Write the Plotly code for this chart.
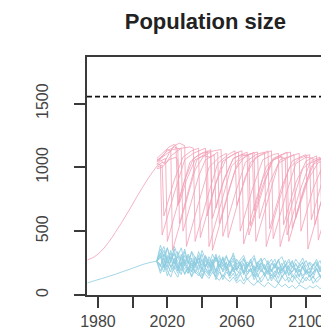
import plotly.graph_objects as go

# ---------------- data ----------------
HIST_PINK_YEARS = [1974, 1978, 1982, 1986, 1990, 1994, 1998, 2002, 2006, 2010, 2014]
HIST_PINK_VALUES = [275, 300, 345, 410, 490, 575, 665, 760, 850, 935, 1010]

HIST_BLUE_YEARS = [1974, 1978, 1982, 1986, 1990, 1994, 1998, 2002, 2006, 2010, 2014]
HIST_BLUE_VALUES = [95, 112, 128, 145, 162, 182, 200, 220, 240, 255, 265]

CARRYING_CAPACITY = 1555

PINK_RUNS = [
    [(2014,1010),(2017,1040),(2019,1030),(2022,1090),(2025,1120),(2028,1150),(2029,500),(2033,700),(2038,930),(2042,1060),(2046,1090),(2049,1120),(2050,560),(2056,850),(2061,1050),(2066,1090),(2070,1120),(2071,420),(2078,760),(2084,1030),(2090,1080),(2093,1100),(2094,600),(2101,900),(2107,1040),(2114,1060)],
    [(2014,1040),(2016,1060),(2018,1030),(2021,1110),(2024,1170),(2027,1190),(2030,1170),(2031,380),(2038,720),(2044,1000),(2050,1080),(2054,1110),(2055,450),(2062,790),(2068,1040),(2074,1100),(2078,1130),(2079,520),(2086,850),(2092,1050),(2098,1090),(2100,1100),(2101,360),(2108,700),(2114,960)],
    [(2014,1000),(2017,1020),(2018,620),(2024,900),(2029,1080),(2034,1130),(2038,1150),(2039,450),(2046,790),(2052,1050),(2058,1100),(2061,1120),(2062,500),(2069,830),(2075,1060),(2081,1100),(2084,1110),(2085,380),(2092,720),(2098,990),(2104,1060),(2108,1080),(2109,640),(2114,860)],
    [(2014,1060),(2017,1080),(2020,1140),(2022,1130),(2023,350),(2030,690),(2036,980),(2041,1090),(2045,1120),(2046,600),(2052,880),(2058,1070),(2064,1110),(2066,1120),(2067,470),(2074,790),(2080,1050),(2086,1090),(2087,550),(2094,880),(2100,1050),(2106,1090),(2107,430),(2114,760)],
    [(2014,1020),(2016,1050),(2019,1070),(2020,420),(2027,760),(2033,1040),(2038,1100),(2043,1130),(2044,380),(2051,720),(2057,1010),(2063,1090),(2068,1110),(2072,1120),(2073,600),(2079,880),(2085,1060),(2091,1090),(2096,1110),(2097,500),(2104,830),(2110,1030),(2114,1050)],
    [(2014,1050),(2017,1090),(2020,1130),(2024,1160),(2026,1150),(2027,560),(2032,820),(2037,1060),(2042,1110),(2045,1140),(2046,350),(2053,690),(2059,980),(2065,1090),(2069,1110),(2070,660),(2075,910),(2081,1070),(2086,1100),(2089,1120),(2090,420),(2097,750),(2103,1010),(2109,1070),(2114,1090)],
    [(2014,1030),(2016,1020),(2017,470),(2024,800),(2030,1060),(2035,1110),(2040,1140),(2042,1150),(2043,620),(2048,880),(2054,1070),(2059,1110),(2063,1130),(2064,400),(2071,740),(2077,1010),(2083,1080),(2088,1110),(2091,1120),(2092,520),(2099,850),(2105,1050),(2111,1080),(2112,470),(2114,560)],
    [(2014,1070),(2017,1110),(2021,1160),(2024,1180),(2025,1170),(2026,700),(2030,900),(2035,1070),(2040,1110),(2047,1130),(2051,1140),(2052,460),(2059,790),(2065,1040),(2071,1100),(2076,1120),(2077,380),(2084,720),(2090,990),(2096,1070),(2102,1100),(2103,590),(2109,880),(2114,1040)],
    [(2014,990),(2017,1000),(2021,1060),(2025,1080),(2026,1060),(2027,720),(2031,900),(2036,1060),(2041,1090),(2045,1080),(2047,1100),(2048,680),(2053,920),(2058,1070),(2063,1100),(2067,1090),(2068,540),(2075,860),(2081,1060),(2085,1080),(2088,1070),(2089,470),(2096,800),(2102,1030),(2108,1070),(2112,1060),(2114,1000)],
    [(2014,1045),(2016,1070),(2019,1100),(2023,1140),(2027,1150),(2033,1160),(2035,1150),(2036,420),(2043,760),(2049,1030),(2055,1100),(2059,1130),(2060,700),(2065,930),(2071,1080),(2076,1110),(2080,1130),(2081,440),(2088,770),(2094,1030),(2100,1080),(2104,1070),(2105,550),(2111,850),(2114,1000)],
]

BLUE_START_YEAR = 2014
BLUE_STEP = 2
BLUE_RUNS = [
    [265,330,220,310,270,360,210,300,250,190,290,230,310,200,270,180,250,300,220,280,190,240,290,200,260,170,230,280,210,180,250,200,270,190,240,160,230,270,200,180,240,210,260,190,170,230,250,200,240,190,230],
    [270,390,300,370,250,380,310,270,360,240,340,290,250,350,280,230,320,260,310,220,300,250,330,240,280,310,230,270,310,220,260,290,240,280,210,270,300,230,260,220,280,240,290,220,260,230,280,210,270,240,290],
    [260,190,250,150,230,180,140,220,170,210,140,200,160,130,190,150,210,120,180,140,200,130,170,110,160,190,120,150,180,100,140,170,110,160,120,95,150,110,140,100,160,120,95,140,110,150,100,130,160,110,140],
    [265,300,210,270,220,280,190,250,200,170,240,180,150,210,160,130,180,140,115,160,125,105,140,95,120,85,130,95,75,110,85,65,100,75,55,90,65,85,55,75,50,80,60,45,70,55,75,50,65,45,60],
    [270,360,270,220,330,250,300,230,340,260,210,300,240,320,220,280,230,300,200,260,310,220,270,200,250,290,210,260,190,240,280,200,250,180,230,270,190,240,280,210,250,180,230,270,200,240,260,190,230,270,240],
    [260,220,320,240,180,290,220,160,260,200,270,170,240,150,220,260,180,150,240,190,250,170,210,150,200,240,160,210,140,190,230,150,200,130,180,220,140,190,230,160,130,200,150,190,140,180,210,150,130,190,160],
    [268,320,380,270,350,240,310,370,250,320,270,230,340,260,220,300,250,320,230,290,210,270,310,230,200,280,220,260,190,250,290,210,180,240,280,200,250,170,230,270,190,240,210,170,250,200,230,270,190,240,210],
    [262,170,240,190,140,230,170,260,160,220,150,240,180,130,210,160,230,140,200,120,180,150,210,130,170,110,160,200,120,170,100,150,190,110,160,90,140,180,100,150,120,85,140,110,160,90,130,150,100,140,110],
    [265,310,250,370,280,330,260,220,310,250,340,240,290,230,310,250,210,290,230,300,220,260,200,280,230,190,260,220,290,200,250,220,180,250,210,280,190,240,200,260,180,230,250,200,170,240,210,180,250,200,230],
    [270,230,290,200,270,320,230,190,280,220,180,260,200,280,210,170,250,190,270,180,220,160,240,190,170,250,180,210,150,230,180,240,160,200,140,220,170,230,150,190,210,140,220,160,190,130,210,150,180,220,160],
    [266,290,350,250,300,200,340,260,230,310,180,280,240,200,300,220,260,180,290,240,200,270,180,230,260,170,240,210,180,260,200,160,230,190,250,170,210,240,160,220,190,150,230,180,210,160,240,190,170,220,180],
    [264,240,180,300,220,260,190,320,230,170,250,210,290,180,240,210,280,170,230,200,260,150,220,190,240,160,210,180,230,140,200,170,220,150,190,130,210,160,200,140,180,200,130,190,150,170,200,140,180,150,190],
]

X_TICKS = [1980, 2000, 2020, 2040, 2060, 2080, 2100]
X_TICK_TEXT = ["1980", "", "2020", "", "2060", "", "2100"]
Y_TICKS = [0, 500, 1000, 1500]
Y_TICK_TEXT = ["0", "500", "1000", "1500"]

PINK = "rgba(243,160,182,0.8)"
BLUE = "rgba(140,204,224,0.8)"
AXIS = "#3a3a3a"

# ---------------- figure ----------------
fig = go.Figure()

for run in BLUE_RUNS:
    yrs = [BLUE_START_YEAR + BLUE_STEP * i for i in range(len(run))]
    fig.add_trace(go.Scatter(x=yrs, y=run, mode="lines",
                             line=dict(color=BLUE, width=1), hoverinfo="skip"))

for run in PINK_RUNS:
    fig.add_trace(go.Scatter(x=[p[0] for p in run], y=[p[1] for p in run], mode="lines",
                             line=dict(color=PINK, width=1), hoverinfo="skip"))

fig.add_trace(go.Scatter(x=HIST_BLUE_YEARS, y=HIST_BLUE_VALUES, mode="lines",
                         line=dict(color=BLUE, width=1, shape="spline"), hoverinfo="skip"))
fig.add_trace(go.Scatter(x=HIST_PINK_YEARS, y=HIST_PINK_VALUES, mode="lines",
                         line=dict(color=PINK, width=1, shape="spline"), hoverinfo="skip"))

fig.add_trace(go.Scatter(x=[1973.7, 2114.9], y=[CARRYING_CAPACITY, CARRYING_CAPACITY],
                         mode="lines", line=dict(color="#111111", width=1.8, dash="5px,3px"),
                         hoverinfo="skip"))

fig.update_layout(
    width=329, height=332,
    margin=dict(l=79, r=3, t=49, b=45),
    paper_bgcolor="white", plot_bgcolor="white",
    showlegend=False,
    font=dict(family="Liberation Sans, Arial, sans-serif", color="#444444", size=16),
    title=dict(text="<b>Population size</b>", x=0.6, xanchor="center",
               y=0.96, yanchor="middle",
               font=dict(size=22, color="#222222", family="Liberation Sans, Arial, sans-serif")),
)

fig.update_xaxes(range=[1973.7, 2114.9], tickvals=X_TICKS, ticktext=X_TICK_TEXT,
                 ticks="outside", ticklen=11, tickwidth=1.6, tickcolor=AXIS,
                 ticklabelstandoff=0,
                 showline=True, linecolor=AXIS, linewidth=1.6, mirror=True,
                 showgrid=False, zeroline=False, tickfont=dict(size=16, color="#444444"))
fig.update_yaxes(range=[0, 1865], tickvals=Y_TICKS, ticktext=Y_TICK_TEXT,
                 ticks="outside", ticklen=11, tickwidth=1.6, tickcolor=AXIS,
                 tickangle=-90, ticklabelstandoff=20,
                 showline=True, linecolor=AXIS, linewidth=1.6, mirror=True,
                 showgrid=False, zeroline=False, tickfont=dict(size=16, color="#444444"))

fig.write_html("out.html")
